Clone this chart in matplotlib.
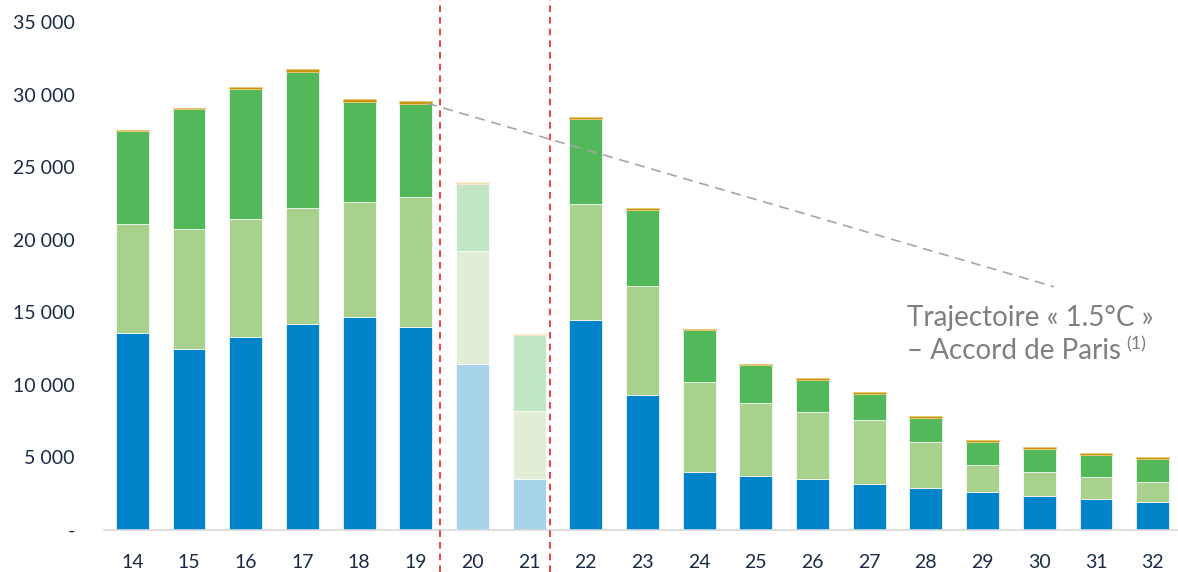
import matplotlib
matplotlib.use("Agg")
import matplotlib.pyplot as plt
import matplotlib.transforms as mtransforms

plt.rcParams['font.family'] = ['Lato', 'DejaVu Sans']

years = ["14", "15", "16", "17", "18", "19", "20", "21", "22", "23",
         "24", "25", "26", "27", "28", "29", "30", "31", "32"]
blue = [13600, 12500, 13330, 14220, 14700, 14010, 11470, 3500, 14450, 9270,
        4000, 3730, 3480, 3200, 2890, 2630, 2340, 2130, 1920]
lightgreen_top = [21090, 20750, 21430, 22190, 22600, 22950, 19240, 8180, 22440, 16830,
                  10170, 8720, 8110, 7600, 6050, 4490, 4010, 3640, 3300]
green_top = [27480, 28990, 30370, 31580, 29490, 29380, 23840, 13420, 28300, 22070,
             13760, 11380, 10350, 9370, 7720, 6070, 5610, 5200, 4920]
orange_top = [27570, 29060, 30520, 31740, 29680, 29540, 23980, 13510, 28440, 22190,
              13850, 11470, 10490, 9480, 7830, 6180, 5700, 5310, 5010]
faded = [False, False, False, False, False, False, True, True, False, False,
         False, False, False, False, False, False, False, False, False]

yticks = [0, 5000, 10000, 15000, 20000, 25000, 30000, 35000]
ytick_labels = ["-", "5 000", "10 000", "15 000", "20 000", "25 000", "30 000", "35 000"]

trend_x = [5.2, 16.26]
trend_y = [29400, 16760]
sep_x = [5.43, 7.37]

lightgreen = [g - b for g, b in zip(lightgreen_top, blue)]
green = [g - l for g, l in zip(green_top, lightgreen_top)]
orange = [o - g for o, g in zip(orange_top, green_top)]

col_normal = ["#0083C9", "#A9D18E", "#52B85A", "#C9950C"]
col_faded = ["#A7D3EB", "#E0EED8", "#C2E5C4", "#F0E0B4"]
edge_normal = ["white", "white", "white", "#E8C870"]
edge_faded = ["white", "white", "white", "#F5EAC8"]

fig = plt.figure(figsize=(11.78, 5.72), dpi=100)
ax = fig.add_axes([104 / 1178, 1 - 530 / 572, (1181 - 104) / 1178, (530 - 22) / 572])

x = list(range(len(years)))
width = 0.58
for i in x:
    cols = col_faded if faded[i] else col_normal
    edges = edge_faded if faded[i] else edge_normal
    bottoms = [0, blue[i], lightgreen_top[i], green_top[i]]
    heights = [blue[i], lightgreen[i], green[i], orange[i]]
    for b, h, c, e in zip(bottoms, heights, cols, edges):
        ax.bar(i, h, bottom=b, width=width, color=c, edgecolor=e,
               linewidth=0.5, zorder=2)

ax.plot(trend_x, trend_y, color="#A6A6A6", linestyle=(0, (6, 4)), linewidth=1.2, zorder=3)

blend = mtransforms.blended_transform_factory(ax.transData, fig.transFigure)
for sx in sep_x:
    ax.plot([sx, sx], [0, 1], transform=blend, color="#F02020",
            linestyle=(0, (4, 3)), linewidth=1.2, clip_on=False, zorder=4)

ax.set_xlim(-0.5, len(years) - 0.5)
ax.set_ylim(0, 35000)
ax.set_xticks(x)
ax.set_xticklabels(years)
ax.set_yticks(yticks)
ax.set_yticklabels(ytick_labels)
ax.tick_params(axis="both", length=0, labelsize=14, colors="#1B2A47")
ax.tick_params(axis="x", pad=17)
ax.tick_params(axis="y", pad=21)
for lab in ax.get_yticklabels():
    lab.set_horizontalalignment("right")
for s in ["top", "right", "left"]:
    ax.spines[s].set_visible(False)
ax.spines["bottom"].set_color("#D9D9D9")
ax.spines["bottom"].set_linewidth(1.2)

t1 = ax.text(13.67, 14630, "Trajectoire « 1.5°C »", fontsize=20, color="#7F7F7F",
             va="center", ha="left")
t2 = ax.text(13.67, 12300, "– Accord de Paris", fontsize=20, color="#7F7F7F",
             va="center", ha="left")
fig.canvas.draw()
bb = t2.get_window_extent()
inv = ax.transData.inverted()
px, py = inv.transform((bb.x1 + 5, bb.y1 + 2))
ax.text(px, py, "(1)", fontsize=13, color="#7F7F7F", va="top", ha="left")

fig.savefig("out.png", dpi=100)
